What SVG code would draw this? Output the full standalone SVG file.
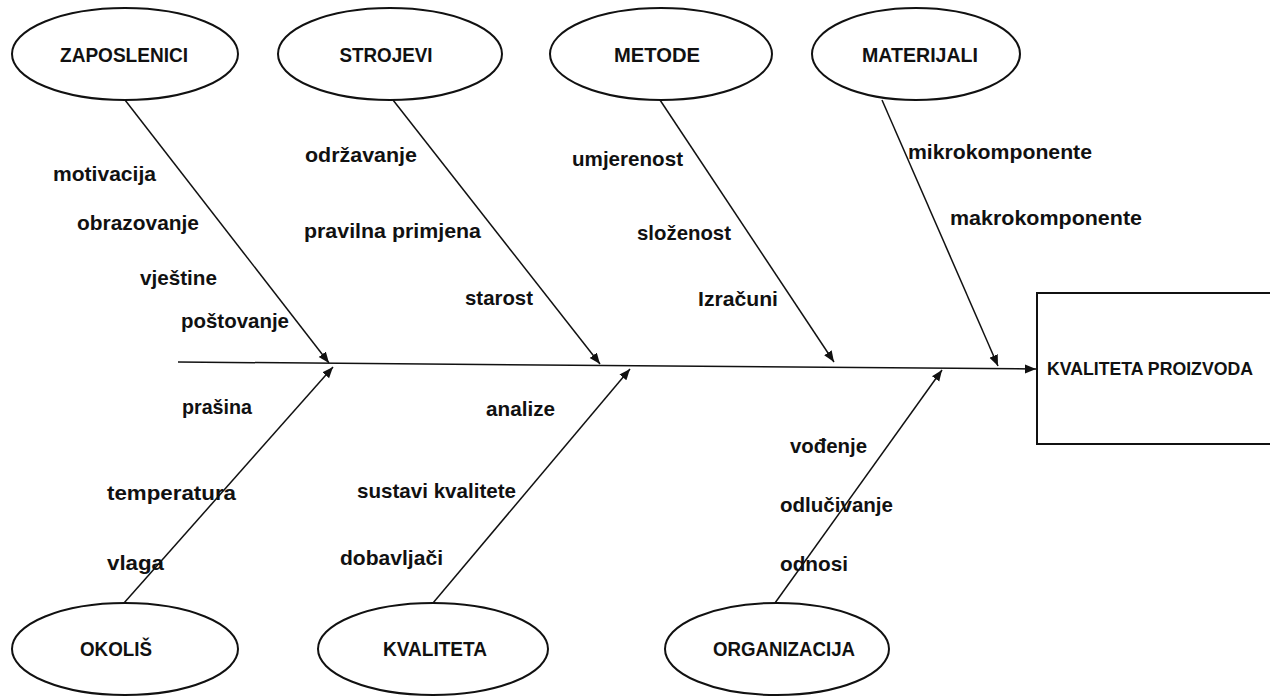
<svg xmlns="http://www.w3.org/2000/svg" width="1270" height="696" viewBox="0 0 1270 696">
<style>
.node ellipse{fill:#fff;stroke:#111;stroke-width:2}
.box{fill:#fff;stroke:#111;stroke-width:2}
.t{font-family:"Liberation Sans",Arial,sans-serif;font-weight:bold;font-size:21px;fill:#111}
.r{font-family:"Liberation Sans",Arial,sans-serif;font-weight:bold;font-size:18px;fill:#111}
.h{font-family:"Liberation Sans",Arial,sans-serif;font-weight:bold;font-size:21px;fill:#111;text-anchor:middle}
.c line{stroke:#111;stroke-width:1.5}
</style>
<defs>
<marker id="ah" markerUnits="userSpaceOnUse" markerWidth="12" markerHeight="10" refX="11" refY="4.5" orient="auto">
<path d="M0,0 L11,4.5 L0,9 Z" fill="#111"/>
</marker>
</defs>
<rect width="1270" height="696" fill="#fff"/>
<g class="c" id="connectors">
<line x1="178" y1="362" x2="1036" y2="369" marker-end="url(#ah)"/>
<line x1="125" y1="100" x2="329" y2="363" marker-end="url(#ah)"/>
<line x1="393" y1="100" x2="600" y2="364" marker-end="url(#ah)"/>
<line x1="660" y1="100" x2="834" y2="362" marker-end="url(#ah)"/>
<line x1="882" y1="100" x2="998" y2="366" marker-end="url(#ah)"/>
<line x1="124" y1="603" x2="333" y2="367" marker-end="url(#ah)"/>
<line x1="433" y1="603" x2="630" y2="369" marker-end="url(#ah)"/>
<line x1="775" y1="603" x2="942" y2="370" marker-end="url(#ah)"/>
</g>
<g class="node" id="zaposlenici"><ellipse cx="125" cy="54" rx="113" ry="46"/><text class="h" x="124" y="62" textLength="128" lengthAdjust="spacingAndGlyphs">ZAPOSLENICI</text></g>
<g class="node" id="strojevi"><ellipse cx="390" cy="54" rx="112" ry="46"/><text class="h" x="386" y="62" textLength="93" lengthAdjust="spacingAndGlyphs">STROJEVI</text></g>
<g class="node" id="metode"><ellipse cx="661" cy="54" rx="111" ry="46"/><text class="h" x="657" y="62" textLength="86" lengthAdjust="spacingAndGlyphs">METODE</text></g>
<g class="node" id="materijali"><ellipse cx="916" cy="54" rx="104" ry="46"/><text class="h" x="920" y="62" textLength="116" lengthAdjust="spacingAndGlyphs">MATERIJALI</text></g>
<g class="node" id="okolis"><ellipse cx="125" cy="649" rx="113" ry="46"/><text class="h" x="116" y="656" textLength="72" lengthAdjust="spacingAndGlyphs">OKOLIŠ</text></g>
<g class="node" id="kvaliteta"><ellipse cx="433" cy="649" rx="115" ry="46"/><text class="h" x="435" y="656" textLength="104" lengthAdjust="spacingAndGlyphs">KVALITETA</text></g>
<g class="node" id="organizacija"><ellipse cx="777" cy="649" rx="112" ry="46"/><text class="h" x="784" y="656" textLength="142" lengthAdjust="spacingAndGlyphs">ORGANIZACIJA</text></g>
<g id="rezultat"><path class="box" d="M1270,293 H1037 V444 H1270"/><text class="r" x="1047" y="375" textLength="206" lengthAdjust="spacingAndGlyphs">KVALITETA PROIZVODA</text></g>
<g id="labels">
<text class="t" x="53" y="181" textLength="103" lengthAdjust="spacingAndGlyphs">motivacija</text>
<text class="t" x="77" y="230" textLength="122" lengthAdjust="spacingAndGlyphs">obrazovanje</text>
<text class="t" x="140" y="285" textLength="77" lengthAdjust="spacingAndGlyphs">vještine</text>
<text class="t" x="181" y="328" textLength="108" lengthAdjust="spacingAndGlyphs">poštovanje</text>
<text class="t" x="305" y="162" textLength="112" lengthAdjust="spacingAndGlyphs">održavanje</text>
<text class="t" x="304" y="238" textLength="177" lengthAdjust="spacingAndGlyphs">pravilna primjena</text>
<text class="t" x="465" y="305" textLength="68" lengthAdjust="spacingAndGlyphs">starost</text>
<text class="t" x="572" y="166" textLength="111" lengthAdjust="spacingAndGlyphs">umjerenost</text>
<text class="t" x="637" y="240" textLength="94" lengthAdjust="spacingAndGlyphs">složenost</text>
<text class="t" x="698" y="306" textLength="80" lengthAdjust="spacingAndGlyphs">Izračuni</text>
<text class="t" x="908" y="159" textLength="184" lengthAdjust="spacingAndGlyphs">mikrokomponente</text>
<text class="t" x="950" y="225" textLength="192" lengthAdjust="spacingAndGlyphs">makrokomponente</text>
<text class="t" x="182" y="414" textLength="70" lengthAdjust="spacingAndGlyphs">prašina</text>
<text class="t" x="107" y="500" textLength="129" lengthAdjust="spacingAndGlyphs">temperatura</text>
<text class="t" x="107" y="570" textLength="57" lengthAdjust="spacingAndGlyphs">vlaga</text>
<text class="t" x="486" y="416" textLength="69" lengthAdjust="spacingAndGlyphs">analize</text>
<text class="t" x="357" y="498" textLength="159" lengthAdjust="spacingAndGlyphs">sustavi kvalitete</text>
<text class="t" x="340" y="565" textLength="103" lengthAdjust="spacingAndGlyphs">dobavljači</text>
<text class="t" x="790" y="453" textLength="77" lengthAdjust="spacingAndGlyphs">vođenje</text>
<text class="t" x="780" y="512" textLength="113" lengthAdjust="spacingAndGlyphs">odlučivanje</text>
<text class="t" x="780" y="571" textLength="68" lengthAdjust="spacingAndGlyphs">odnosi</text>
</g>
</svg>
